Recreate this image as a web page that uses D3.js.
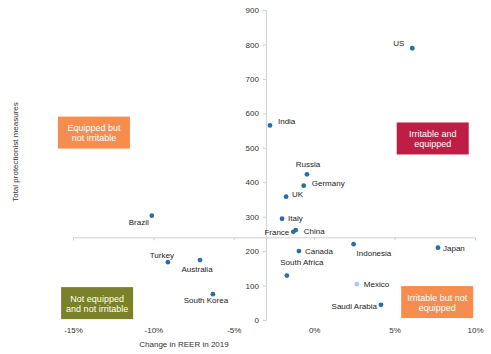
<!DOCTYPE html>
<html lang="en"><head>
<meta charset="utf-8">
<title>REER vs protectionist measures</title>
<script src="https://cdn.jsdelivr.net/npm/d3@7"></script>
<style>
  body { margin: 0; background: #fff; }
  text { font-family: "Liberation Sans", Arial, sans-serif; }
</style>
</head>
<body>
<script type="text/javascript">

var width = 491;
var height = 354;

// data
var countries = ["US", "India", "Russia", "Germany", "UK", "Italy", "France", "China",
                 "Canada", "Indonesia", "Japan", "South Africa", "Mexico", "Saudi Arabia",
                 "Brazil", "Turkey", "Australia", "South Korea"];
var reerChange = [6.1, -2.75, -0.45, -0.65, -1.75, -2.0, -1.3, -1.15,
                  -0.95, 2.45, 7.7, -1.7, 2.65, 4.15,
                  -10.1, -9.1, -7.1, -6.3];
var measures = [789, 565, 423, 390, 358, 294, 256, 261,
                200, 220, 210, 129, 104, 44,
                303, 168, 174, 75];

var xTicks = [-15, -10, -5, 0, 5, 10];
var xTickLabels = ["-15%", "-10%", "-5%", "0%", "5%", "10%"];
var yTicks = [0, 100, 200, 300, 400, 500, 600, 700, 800, 900];

var quadrants = ["Equipped but|not irritable", "Irritable and|equipped",
                 "Not equipped|and not irritable", "Irritable but not|equipped"];

// layout
var labelPos = {
  "US": ["end", -8, -5], "India": ["start", 8, -4], "Russia": ["middle", 1, -10],
  "Germany": ["start", 8, -2], "UK": ["start", 6, -2], "Italy": ["start", 6, -1],
  "France": ["end", -4, 0], "China": ["start", 8, 1], "Canada": ["start", 6, 0],
  "Indonesia": ["start", 3, 9], "Japan": ["start", 5, 1], "South Africa": ["middle", 15, -13],
  "Mexico": ["start", 7, 0], "Saudi Arabia": ["end", -4, 1], "Brazil": ["end", -3, 7],
  "Turkey": ["middle", -6, -7], "Australia": ["middle", -3, 9], "South Korea": ["middle", -7, 6]
};
var boxCenters = [[-13.7, 544], [7.37, 527], [-13.5, 49], [7.65, 52]];
var boxColors = ["#f68d4f", "#be1e45", "#7b8129", "#f68d4f"];

var svg = d3.select("body").append("svg")
            .attr("width", width)
            .attr("height", height);

var x = d3.scaleLinear().domain([-15, 10]).range([73, 475]);
var y = d3.scaleLinear().domain([0, 900]).range([320, 10]);

// y axis crossing at -3%
var yAxis = svg.append("g")
    .attr("transform", "translate(" + x(-3) + ",0)")
    .call(d3.axisLeft(y).tickValues(yTicks).tickSize(3).tickPadding(4).tickFormat(d3.format("d")));

// x axis crossing at 240 measures, labels kept at the bottom
var xAxis = svg.append("g")
    .attr("transform", "translate(0," + y(240) + ")")
    .call(d3.axisBottom(x).tickValues(xTicks).tickSize(3).tickFormat(""));

var xLabels = svg.append("g")
    .attr("transform", "translate(0,324)")
    .call(d3.axisBottom(x).tickValues(xTicks).tickSize(0)
          .tickFormat((d, i) => xTickLabels[i]));
xLabels.select(".domain").remove();

svg.selectAll(".domain, .tick line").attr("stroke", "#d0d0d0");
svg.selectAll(".tick text")
    .attr("fill", "#333")
    .style("font-size", "8px")
    .style("font-family", "'Liberation Sans', Arial, sans-serif");

// axis titles
svg.append("text")
    .attr("x", 184).attr("y", 347)
    .attr("text-anchor", "middle")
    .attr("fill", "#333")
    .style("font-size", "8px")
    .text("Change in REER in 2019");

svg.append("text")
    .attr("transform", "translate(18,152) rotate(-90)")
    .attr("text-anchor", "middle")
    .attr("fill", "#333")
    .style("font-size", "8px")
    .text("Total protectionist measures");

// quadrant boxes
var boxW = 72, boxH = 32;
var boxes = svg.selectAll(".quad")
    .data(quadrants)
    .enter()
    .append("g")
    .attr("class", "quad")
    .attr("transform", (d, i) => "translate(" + x(boxCenters[i][0]) + "," + y(boxCenters[i][1]) + ")");

boxes.append("rect")
    .attr("x", -boxW / 2).attr("y", -boxH / 2)
    .attr("width", boxW).attr("height", boxH)
    .attr("fill", (d, i) => boxColors[i]);

boxes.each(function(d) {
    var lines = d.split("|");
    d3.select(this).selectAll("text")
        .data(lines)
        .enter()
        .append("text")
        .attr("text-anchor", "middle")
        .attr("y", (l, j) => (j - 0.5) * 10 + 3.5)
        .attr("fill", "#fff")
        .style("font-size", "9px")
        .text(l => l);
});

// points
var pts = countries.map((c, i) => ({name: c, x: reerChange[i], y: measures[i]}));

svg.selectAll("circle.pt")
    .data(pts)
    .enter()
    .append("circle")
    .attr("class", "pt")
    .attr("cx", d => x(d.x))
    .attr("cy", d => y(d.y))
    .attr("r", 2.4)
    .attr("fill", d => d.name == "Mexico" ? "#a9cbe6" : "#2a6fa8");

svg.selectAll("text.lbl")
    .data(pts)
    .enter()
    .append("text")
    .attr("class", "lbl")
    .attr("x", d => x(d.x) + labelPos[d.name][1])
    .attr("y", d => y(d.y) + labelPos[d.name][2])
    .attr("dy", "0.35em")
    .attr("text-anchor", d => labelPos[d.name][0])
    .attr("fill", "#222")
    .style("font-size", "8px")
    .text(d => d.name);

</script>
</body></html>
